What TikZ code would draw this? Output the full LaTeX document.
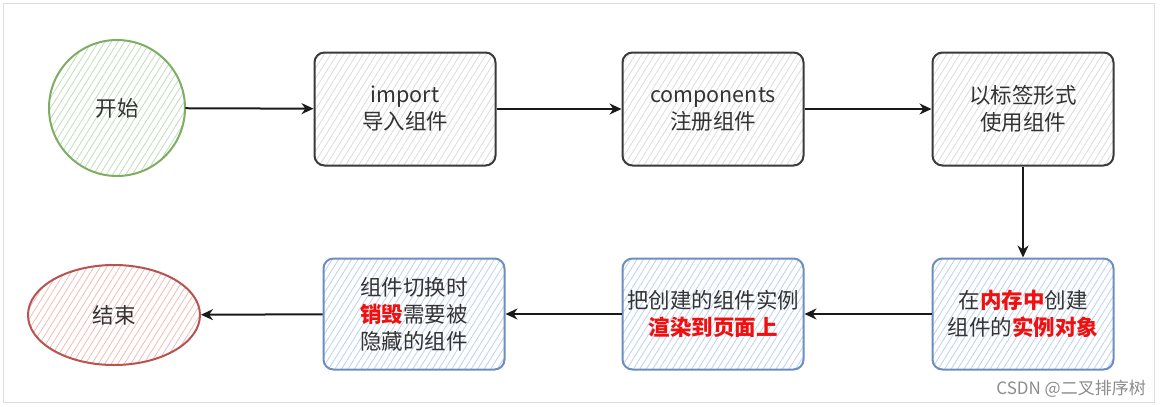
\documentclass[tikz,border=0pt]{standalone}
\usepackage{fontspec}
\setmainfont{Noto Sans CJK SC}
\usetikzlibrary{arrows.meta,patterns.meta,shapes.geometric}
\definecolor{gstroke}{HTML}{7DAE62}
\definecolor{ghatch}{HTML}{C2DDBE}
\definecolor{kstroke}{HTML}{3A3A3A}
\definecolor{khatch}{HTML}{DCDCDC}
\definecolor{bstroke}{HTML}{6C8EBF}
\definecolor{bhatch}{HTML}{BCD2F0}
\definecolor{rstroke}{HTML}{B85450}
\definecolor{rhatch}{HTML}{F0BDBA}
\definecolor{txt}{HTML}{333333}
\definecolor{hl}{HTML}{F01010}
\definecolor{framec}{HTML}{DDDDDD}
\newcommand{\hot}[1]{{\bfseries\color{hl}#1}}
\tikzset{
  lbl/.style={text=txt,align=center,font=\fontsize{21.5}{27}\selectfont},
  hatch/.style={pattern={Lines[angle=58,distance=5.5pt,line width=0.8pt]},pattern color=#1},
  graybox/.style={lbl,draw=kstroke,line width=2pt,rounded corners=10pt,minimum width=181pt,minimum height=113pt,inner sep=0pt,hatch=khatch},
  bluebox/.style={lbl,draw=bstroke,line width=2pt,rounded corners=10pt,minimum width=181pt,minimum height=111pt,inner sep=0pt,hatch=bhatch},
  startnode/.style={lbl,circle,draw=gstroke,line width=2pt,minimum size=136pt,inner sep=0pt,hatch=ghatch},
  endnode/.style={lbl,ellipse,draw=rstroke,line width=2pt,minimum width=172pt,minimum height=100pt,inner sep=0pt,hatch=rhatch},
  flow/.style={draw=black!90,line width=2pt,-{Stealth[open,length=12pt,width=11pt,line width=2pt]}},
}
\begin{document}
\begin{tikzpicture}[x=1pt,y=-1pt]
\useasboundingbox (0,0) rectangle (1163,407);
\fill[white] (0,0) rectangle (1163,407);
\draw[framec,line width=1pt] (3,3) rectangle (1154,402);
\node[startnode] (start) at (117,108) {开始};
\node[graybox] (imp) at (405,109) {import\\导入组件};
\node[graybox] (reg) at (713,109) {components\\注册组件};
\node[graybox] (use) at (1023,109) {以标签形式\\使用组件};
\node[bluebox] (mem) at (1023,314) {在\hot{内存中}创建\\组件的\hot{实例对象}};
\node[bluebox] (ren) at (713,314) {把创建的组件实例\\\hot{渲染到页面上}};
\node[bluebox] (des) at (414,314) {组件切换时\\\hot{销毁}需要被\\隐藏的组件};
\node[endnode] (end) at (114,315) {结束};
\draw[flow] (start) -- (imp);
\draw[flow] (imp) -- (reg);
\draw[flow] (reg) -- (use);
\draw[flow] (use) -- (mem);
\draw[flow] (mem) -- (ren);
\draw[flow] (ren) -- (des);
\draw[flow] (des) -- (end);
\node[text=black!45,anchor=base east,font=\fontsize{17}{19}\selectfont,inner sep=0pt] (wm) at (1146,394) {CSDN @二叉排序树};
\end{tikzpicture}
\end{document}
